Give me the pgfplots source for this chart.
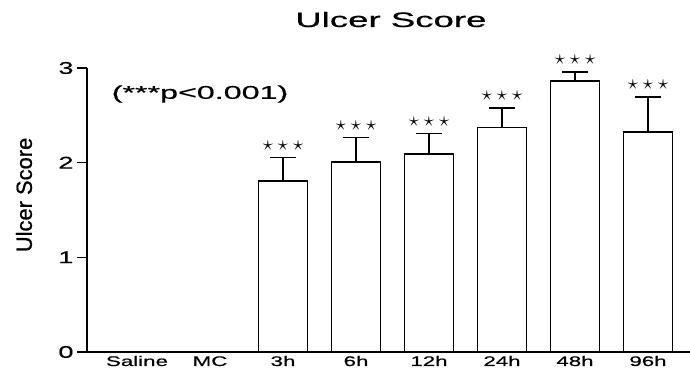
\documentclass[border=0pt]{standalone}
\usepackage{pgfplots}
\usepackage{pgfplotstable}
\pgfplotsset{compat=1.18}
\usepackage{fontspec}
\setmainfont{Liberation Sans}[FakeStretch=1.6, FakeBold=0.6]
\newfontfamily\widefont{Liberation Sans}[FakeStretch=1.75, FakeBold=0.6]
\newfontfamily\plainfont{Liberation Sans}[FakeBold=0.8]

\pgfplotstableread{
x y e
0 0 0
1 0 0
2 1.806 0.250
3 2.010 0.257
4 2.090 0.220
5 2.373 0.207
6 2.860 0.100
7 2.326 0.370
}\bars

\pgfplotstableread{
x top
2 2.056
3 2.267
4 2.310
5 2.580
6 2.960
7 2.696
}\stars

\begin{document}
\begin{tikzpicture}
\path[use as bounding box] (-87bp,-21bp) rectangle (603bp,352bp);
\begin{axis}[
  at={(0,0)}, anchor=south west,
  scale only axis, width=603bp, height=284bp,
  xmin=-0.685, xmax=7.575, ymin=0, ymax=3,
  axis x line=bottom, axis y line=left,
  axis line style={-, line width=1.6bp},
  xtick={0,...,7},
  xticklabels={Saline,MC,3h,6h,12h,24h,48h,96h},
  xtick style={draw=none},
  ytick={0,1,2,3},
  ytick style={line width=1.6bp, black},
  tick align=outside,
  major tick length=10bp,
  /pgf/number format/assume math mode=true,
  xticklabel style={font=\fontsize{14}{16}\selectfont, anchor=base, yshift=-4bp},
  yticklabel style={font=\fontsize{17}{19}\selectfont},
  clip=false,
]
\addplot[ybar, bar width=49bp, fill=white, draw=black, line width=1.6bp,
  error bars/.cd, y dir=plus, y explicit,
  error bar style={line width=1.6bp},
  error mark options={line width=1.6bp, mark size=13bp, rotate=90}]
  table[x=x, y=y, y error=e] {\bars};
\addplot[draw=none, mark=none,
  nodes near coords={\fontsize{21}{22}\selectfont$\star$\hspace{5bp}$\star$\hspace{5bp}$\star$},
  every node near coord/.append style={anchor=center, yshift=12bp}]
  table[x=x, y=top] {\stars};
\node[font=\widefont\fontsize{18.5}{20}\selectfont] at (axis cs:0.863,2.725) {(***p<0.001)};
\node[anchor=base, font=\widefont\fontsize{21}{24}\selectfont] at ([yshift=41bp]rel axis cs:0.504,1) {Ulcer Score};
\node[rotate=90, font=\plainfont\fontsize{22}{24}\selectfont] at ([xshift=-63bp]rel axis cs:0,0.553) {Ulcer Score};
\end{axis}
\end{tikzpicture}
\end{document}
